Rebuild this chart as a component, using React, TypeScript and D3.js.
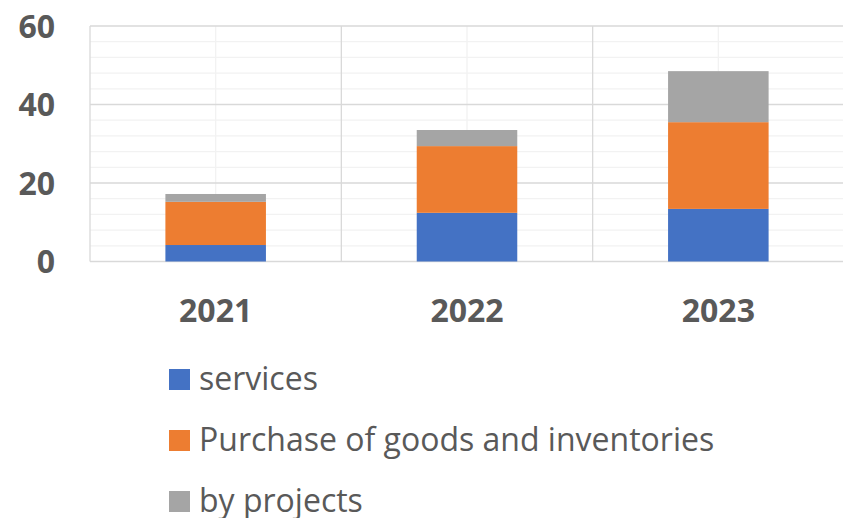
import React from "react";
import * as d3 from "d3";

const years = ["2021", "2022", "2023"];
const services = [4.2, 12.4, 13.4];
const purchase = [11.0, 17.0, 22.1];
const projects = [2.0, 4.1, 13.0];
const seriesNames = ["services", "Purchase of goods and inventories", "by projects"];
const seriesColors = ["#4472c4", "#ed7d31", "#a5a5a5"];
const yMajorTicks = [0, 20, 40, 60];

const W = 843;
const H = 518;
const plot = { left: 90, right: 844, top: 26, bottom: 261.5 };

export default function App() {
  const x = d3.scaleBand<string>().domain(years).range([plot.left, plot.right]).paddingInner(0).paddingOuter(0);
  const y = d3.scaleLinear().domain([0, 60]).range([plot.bottom, plot.top]);
  const minorTicks = d3.range(0, 61, 4).filter((v) => !yMajorTicks.includes(v));
  const bw = x.bandwidth() / 2.5;

  const rows = years.map((yr, i) => ({ year: yr, services: services[i], purchase: purchase[i], projects: projects[i] }));
  const stack = d3.stack<any>().keys(["services", "purchase", "projects"]);
  const layers = stack(rows);

  const textColor = "#595959";
  const font = "'Open Sans', 'Liberation Sans', sans-serif";

  return (
    <svg width={W} height={H} style={{ position: "absolute", left: 0, top: 0, background: "#fff" }} fontFamily={font}>
      {minorTicks.map((t) => (
        <line key={"mh" + t} x1={plot.left} x2={plot.right} y1={y(t)} y2={y(t)} stroke="#f2f2f2" strokeWidth={1.3} />
      ))}
      {years.map((yr) => (
        <line key={"mv" + yr} x1={(x(yr) as number) + x.bandwidth() / 2} x2={(x(yr) as number) + x.bandwidth() / 2} y1={plot.top} y2={plot.bottom} stroke="#f2f2f2" strokeWidth={1.3} />
      ))}
      {yMajorTicks.map((t) => (
        <line key={"h" + t} x1={plot.left} x2={plot.right} y1={y(t)} y2={y(t)} stroke="#d9d9d9" strokeWidth={1.3} />
      ))}
      {[...years.map((yr) => x(yr) as number), plot.right].map((px, i) => (
        <line key={"v" + i} x1={px} x2={px} y1={plot.top} y2={plot.bottom} stroke="#d9d9d9" strokeWidth={1.3} />
      ))}
      {layers.map((layer, li) =>
        layer.map((d, i) => {
          const cx = (x(years[i]) as number) + x.bandwidth() / 2;
          return (
            <rect key={li + "-" + i} x={cx - bw / 2} width={bw} y={y(d[1])} height={y(d[0]) - y(d[1])} fill={seriesColors[li]} />
          );
        })
      )}
      {yMajorTicks.map((t) => (
        <text key={"yl" + t} x={55} y={y(t)} dy="0.36em" textAnchor="end" fontSize={32} fontWeight="bold" fill={textColor}>
          {t}
        </text>
      ))}
      {years.map((yr) => (
        <text key={"xl" + yr} x={(x(yr) as number) + x.bandwidth() / 2} y={322} textAnchor="middle" fontSize={32} fontWeight="bold" fill={textColor}>
          {yr}
        </text>
      ))}
      {seriesNames.map((name, i) => (
        <g key={"lg" + i} transform={`translate(169, ${369 + i * 61})`}>
          <rect x={0} y={0} width={21} height={21} fill={seriesColors[i]} />
          <text x={30} y={21} fontSize={32} fill={textColor}>
            {name}
          </text>
        </g>
      ))}
    </svg>
  );
}
